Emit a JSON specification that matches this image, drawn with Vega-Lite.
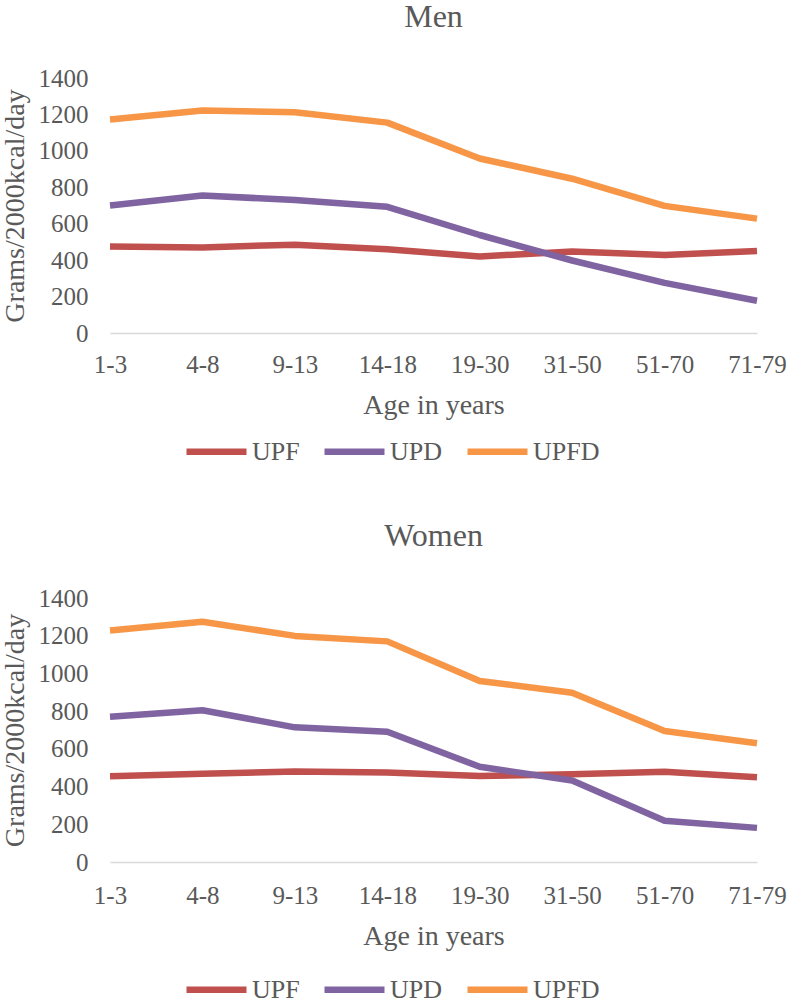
{
  "$schema": "https://vega.github.io/schema/vega-lite/v6.json",
  "padding": {"left": 0, "top": 1, "right": 5, "bottom": 0},
  "background": "white",
  "data": {"values": [
    {"sex": "Men", "age": "1-3", "series": "UPF", "value": 475},
    {"sex": "Men", "age": "4-8", "series": "UPF", "value": 470},
    {"sex": "Men", "age": "9-13", "series": "UPF", "value": 485},
    {"sex": "Men", "age": "14-18", "series": "UPF", "value": 460},
    {"sex": "Men", "age": "19-30", "series": "UPF", "value": 420},
    {"sex": "Men", "age": "31-50", "series": "UPF", "value": 448},
    {"sex": "Men", "age": "51-70", "series": "UPF", "value": 428},
    {"sex": "Men", "age": "71-79", "series": "UPF", "value": 450},
    {"sex": "Men", "age": "1-3", "series": "UPD", "value": 700},
    {"sex": "Men", "age": "4-8", "series": "UPD", "value": 755},
    {"sex": "Men", "age": "9-13", "series": "UPD", "value": 730},
    {"sex": "Men", "age": "14-18", "series": "UPD", "value": 693},
    {"sex": "Men", "age": "19-30", "series": "UPD", "value": 538},
    {"sex": "Men", "age": "31-50", "series": "UPD", "value": 398},
    {"sex": "Men", "age": "51-70", "series": "UPD", "value": 275},
    {"sex": "Men", "age": "71-79", "series": "UPD", "value": 177},
    {"sex": "Men", "age": "1-3", "series": "UPFD", "value": 1172},
    {"sex": "Men", "age": "4-8", "series": "UPFD", "value": 1222},
    {"sex": "Men", "age": "9-13", "series": "UPFD", "value": 1212},
    {"sex": "Men", "age": "14-18", "series": "UPFD", "value": 1155},
    {"sex": "Men", "age": "19-30", "series": "UPFD", "value": 958},
    {"sex": "Men", "age": "31-50", "series": "UPFD", "value": 847},
    {"sex": "Men", "age": "51-70", "series": "UPFD", "value": 698},
    {"sex": "Men", "age": "71-79", "series": "UPFD", "value": 628},
    {"sex": "Women", "age": "1-3", "series": "UPF", "value": 455},
    {"sex": "Women", "age": "4-8", "series": "UPF", "value": 468},
    {"sex": "Women", "age": "9-13", "series": "UPF", "value": 480},
    {"sex": "Women", "age": "14-18", "series": "UPF", "value": 475},
    {"sex": "Women", "age": "19-30", "series": "UPF", "value": 456},
    {"sex": "Women", "age": "31-50", "series": "UPF", "value": 466},
    {"sex": "Women", "age": "51-70", "series": "UPF", "value": 478},
    {"sex": "Women", "age": "71-79", "series": "UPF", "value": 450},
    {"sex": "Women", "age": "1-3", "series": "UPD", "value": 770},
    {"sex": "Women", "age": "4-8", "series": "UPD", "value": 805},
    {"sex": "Women", "age": "9-13", "series": "UPD", "value": 714},
    {"sex": "Women", "age": "14-18", "series": "UPD", "value": 691},
    {"sex": "Women", "age": "19-30", "series": "UPD", "value": 505},
    {"sex": "Women", "age": "31-50", "series": "UPD", "value": 432},
    {"sex": "Women", "age": "51-70", "series": "UPD", "value": 219},
    {"sex": "Women", "age": "71-79", "series": "UPD", "value": 181},
    {"sex": "Women", "age": "1-3", "series": "UPFD", "value": 1228},
    {"sex": "Women", "age": "4-8", "series": "UPFD", "value": 1274},
    {"sex": "Women", "age": "9-13", "series": "UPFD", "value": 1199},
    {"sex": "Women", "age": "14-18", "series": "UPFD", "value": 1170},
    {"sex": "Women", "age": "19-30", "series": "UPFD", "value": 960},
    {"sex": "Women", "age": "31-50", "series": "UPFD", "value": 898},
    {"sex": "Women", "age": "51-70", "series": "UPFD", "value": 695},
    {"sex": "Women", "age": "71-79", "series": "UPFD", "value": 630}
  ]},
  "config": {
    "font": "Liberation Serif",
    "view": {"stroke": null},
    "axis": {
      "labelFont": "Liberation Serif", "titleFont": "Liberation Serif",
      "labelColor": "#595959", "titleColor": "#595959",
      "labelFontSize": 25, "titleFontSize": 28, "titleFontWeight": "normal",
      "grid": false, "ticks": false
    },
    "title": {"font": "Liberation Serif", "fontSize": 32, "fontWeight": "normal", "color": "#595959"},
    "legend": {
      "labelFont": "Liberation Serif", "labelFontSize": 26, "labelColor": "#595959",
      "symbolType": "stroke", "symbolStrokeWidth": 6.5, "symbolSize": 3600,
      "labelOffset": 2, "columnPadding": 11
    },
    "concat": {"spacing": 55}
  },
  "resolve": {"legend": {"color": "independent"}},
  "vconcat": [
    {
      "title": {"text": "Men", "offset": 32},
      "width": 647, "height": 255,
      "transform": [{"filter": "datum.sex === 'Men'"}],
      "mark": {"type": "line", "strokeWidth": 6.5, "strokeJoin": "round"},
      "encoding": {
        "x": {"field": "age", "type": "ordinal",
              "sort": ["1-3","4-8","9-13","14-18","19-30","31-50","51-70","71-79"],
              "scale": {"type": "point", "padding": 0},
              "axis": {"labelAngle": 0, "title": "Age in years", "domainColor": "#d9d9d9", "domainWidth": 1.5, "labelPadding": 19, "titlePadding": 14}},
        "y": {"field": "value", "type": "quantitative",
              "scale": {"domain": [0, 1400]},
              "axis": {"values": [0,200,400,600,800,1000,1200,1400], "format": "d", "domain": false, "title": "Grams/2000kcal/day", "labelPadding": 22, "titlePadding": 9}},
        "color": {"field": "series", "type": "nominal", "sort": ["UPF","UPD","UPFD"],
                  "scale": {"domain": ["UPF","UPD","UPFD"], "range": ["#C0504D","#8064A2","#F79646"]},
                  "legend": {"orient": "none", "legendX": 73, "legendY": 340, "direction": "horizontal", "title": null}}
      }
    },
    {
      "title": {"text": "Women", "offset": 33},
      "width": 647, "height": 264,
      "transform": [{"filter": "datum.sex === 'Women'"}],
      "mark": {"type": "line", "strokeWidth": 6.5, "strokeJoin": "round"},
      "encoding": {
        "x": {"field": "age", "type": "ordinal",
              "sort": ["1-3","4-8","9-13","14-18","19-30","31-50","51-70","71-79"],
              "scale": {"type": "point", "padding": 0},
              "axis": {"labelAngle": 0, "title": "Age in years", "domainColor": "#d9d9d9", "domainWidth": 1.5, "labelPadding": 21, "titlePadding": 14}},
        "y": {"field": "value", "type": "quantitative",
              "scale": {"domain": [0, 1400]},
              "axis": {"values": [0,200,400,600,800,1000,1200,1400], "format": "d", "domain": false, "title": "Grams/2000kcal/day", "labelPadding": 22, "titlePadding": 9}},
        "color": {"field": "series", "type": "nominal", "sort": ["UPF","UPD","UPFD"],
                  "scale": {"domain": ["UPF","UPD","UPFD"], "range": ["#C0504D","#8064A2","#F79646"]},
                  "legend": {"orient": "none", "legendX": 73, "legendY": 358, "direction": "horizontal", "title": null}}
      }
    }
  ]
}
